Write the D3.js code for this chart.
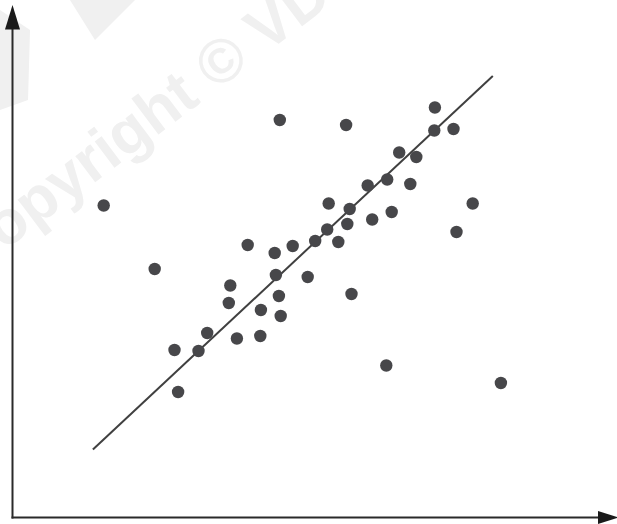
<!DOCTYPE html>
<html>
<head>
<meta charset="utf-8">
<script src="https://cdn.jsdelivr.net/npm/d3@7"></script>
<style>
  html, body { margin: 0; padding: 0; background: #fff; }
  svg { display: block; }
</style>
</head>
<body>
<div id="chart"></div>
<script>
// scatter values, arbitrary units 0..100 on both axes
const xValues = [15.2, 44.55, 55.6, 23.7, 70.4, 70.3, 73.5, 64.45, 67.3, 59.2,
  62.45, 66.3, 52.7, 56.2, 76.7, 59.95, 63.2, 55.8, 52.45, 50.45,
  54.3, 74, 46.7, 39.2, 43.7, 43.9, 49.2, 36.3, 44.4, 56.5,
  36.05, 41.4, 44.7, 32.45, 37.4, 41.3, 27, 31, 27.6, 62.3, 81.4];
const yValues = [62.4, 79.5, 78.5, 49.7, 82, 77.4, 77.7, 73, 72.1, 66.4,
  67.6, 66.7, 62.8, 61.7, 62.8, 59.6, 61.1, 58.7, 57.6, 55.3,
  55.1, 57.1, 54.3, 54.5, 52.9, 48.5, 48.1, 46.4, 44.3, 44.7,
  42.9, 41.5, 40.3, 36.9, 35.8, 36.3, 33.5, 33.3, 25.1, 30.4, 26.9];
// fitted trend line end points
const trendX = [13.4, 80.05];
const trendY = [13.6, 88.3];

const width = 617, height = 524;
const margin = { top: 18, right: 5, bottom: 6.5, left: 12.5 };

const svg = d3.select('#chart').append('svg')
  .attr('width', width)
  .attr('height', height);

const x = d3.scaleLinear().domain([0, 100]).range([margin.left, margin.left + 600]);
const y = d3.scaleLinear().domain([0, 100]).range([height - margin.bottom, height - margin.bottom - 500]);

// faint watermark
const wm = svg.append('g').attr('fill', '#f0f0f0');
wm.append('polygon').attr('points', '70,0 135,0 95,40');
wm.append('polygon').attr('points', '0,10 30,30 28,100 0,110');
wm.append('text')
  .attr('transform', 'translate(-32,278) rotate(-37)')
  .attr('font-family', 'Liberation Sans, Arial, sans-serif')
  .attr('font-weight', 'bold')
  .attr('font-size', 62)
  .text('Copyright © VDG');

const axisColor = '#2a2a2a';
const x0 = x(0), y0 = y(0);

// axes with arrow heads
svg.append('path')
  .attr('d', `M${x0},${y0 + 1}V26`)
  .attr('stroke', axisColor).attr('stroke-width', 2).attr('fill', 'none');
svg.append('path')
  .attr('d', `M${x0 - 1},${y0}H600`)
  .attr('stroke', axisColor).attr('stroke-width', 2).attr('fill', 'none');
svg.append('polygon')
  .attr('points', `${x0},5 ${x0 - 7.5},29.5 ${x0 + 7.5},29.5`)
  .attr('fill', '#1a1a1a');
svg.append('polygon')
  .attr('points', `619,${y0} 598,${y0 - 6.5} 598,${y0 + 6.5}`)
  .attr('fill', '#1a1a1a');

// trend line
const line = d3.line().x(d => x(d[0])).y(d => y(d[1]));
svg.append('path')
  .datum(d3.zip(trendX, trendY))
  .attr('d', line)
  .attr('stroke', '#404040')
  .attr('stroke-width', 2)
  .attr('fill', 'none');

// points
svg.append('g')
  .selectAll('circle')
  .data(d3.zip(xValues, yValues))
  .join('circle')
  .attr('cx', d => x(d[0]))
  .attr('cy', d => y(d[1]))
  .attr('r', 6.2)
  .attr('fill', '#47474a');
</script>
</body>
</html>
